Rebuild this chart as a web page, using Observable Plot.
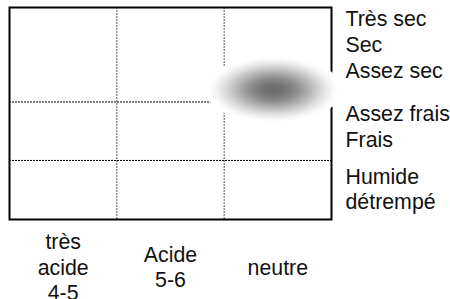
<!DOCTYPE html>
<html><head><meta charset="utf-8">
<script src="https://cdn.jsdelivr.net/npm/d3@7"></script>
<script src="https://cdn.jsdelivr.net/npm/@observablehq/plot@0.6"></script>
<style>body{margin:0;background:#fff}</style>
</head><body><div id="chart"></div>
<script>
// pH columns (x) and moisture rows (y, 0 = driest at top)
const phLabels = ["très\nacide\n4-5", "Acide\n5-6", "neutre"];
const phCenters = [4.5, 5.5, 6.5];
const phBreaks = [5, 6];
const moistureLabels = ["Très sec\nSec\nAssez sec", "Assez frais\nFrais", "Humide\ndétrempé"];
const moistureLabelY = [1.2, 3.9, 5.97];
const moistureBreaks = [3.12, 5.05];
const spotPH = [6.46];
const spotMoisture = [2.71];

const phTable = phLabels.map((label, i) => ({label, x: phCenters[i]}));
const moistTable = moistureLabels.map((label, i) => ({label, y: moistureLabelY[i]}));
const spot = spotPH.map((x, i) => ({x, y: spotMoisture[i]}));

const font = "Liberation Sans, Arial, Helvetica, sans-serif";
const fs = 21.33;

const plot = Plot.plot({
  width: 450,
  height: 299,
  marginLeft: 9,
  marginTop: 7,
  marginRight: 119,
  marginBottom: 80,
  style: {fontFamily: font, fontSize: fs + "px", background: "#fff", color: "#000"},
  x: {type: "linear", domain: [4, 7], axis: null},
  y: {type: "linear", domain: [0, 7], reverse: true, axis: null},
  marks: [
    Plot.ruleX(phBreaks, {stroke: "#555", strokeWidth: 1, strokeDasharray: "2,1"}),
    Plot.ruleY(moistureBreaks, {stroke: "#000", strokeWidth: 1, strokeDasharray: "2,1"}),
    Plot.frame({stroke: "#000", strokeWidth: 2}),
    Plot.dot(spot, {x: "x", y: "y", r: 34, fill: "url(#spotGrad)", stroke: "none"}),
    Plot.text(moistTable, {
      y: "y", text: "label", frameAnchor: "right", textAnchor: "start", dx: 14,
      lineAnchor: "middle", lineHeight: 1.2, fontSize: fs, fill: "#111"
    }),
    Plot.text(phTable, {
      x: "x", text: "label", frameAnchor: "bottom", dy: 47,
      lineAnchor: "middle", lineHeight: 1.18, fontSize: fs, fill: "#111"
    })
  ]
});

const svgEl = plot.tagName.toLowerCase() === "svg" ? plot : plot.querySelector("svg");
const svg = d3.select(svgEl);
const defs = svg.insert("defs", ":first-child");
const grad = defs.append("radialGradient").attr("id", "spotGrad")
  .attr("cx", "50%").attr("cy", "50%").attr("r", "50%");
[[0, "#6a6a6a"], [0.15, "#727272"], [0.35, "#8e8e8e"], [0.55, "#b9b9b9"],
 [0.72, "#dedede"], [0.86, "#f6f6f6"], [0.95, "#ffffff"], [1, "#ffffff"]]
  .forEach(([o, c]) => grad.append("stop").attr("offset", o).attr("stop-color", c));

// stretch the spot into a 2:1 ellipse
svg.selectAll("circle").each(function() {
  const c = d3.select(this);
  let cx = c.attr("cx"), cy = c.attr("cy");
  const t = c.attr("transform");
  if (cx == null || cy == null) {
    const m = /translate\(\s*([-\d.e]+)[ ,]+([-\d.e]+)\s*\)/.exec(t || "");
    if (m) { c.attr("transform", `translate(${m[1]},${m[2]}) scale(2,1)`); }
  } else {
    cx = +cx; cy = +cy;
    c.attr("transform", `${t || ""} translate(${cx},${cy}) scale(2,1) translate(${-cx},${-cy})`);
  }
});

document.getElementById("chart").appendChild(plot);
</script>
</body></html>
